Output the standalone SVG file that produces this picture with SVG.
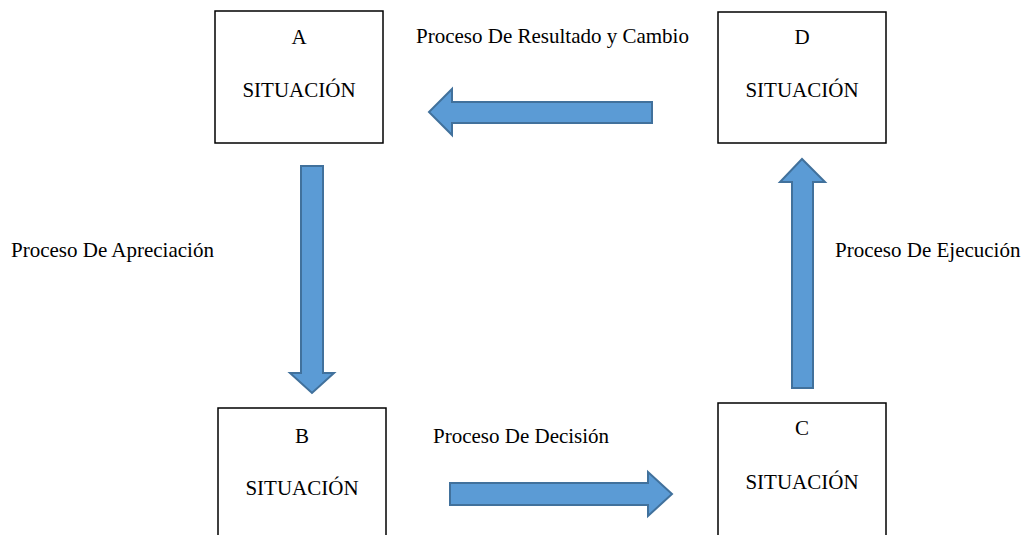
<svg xmlns="http://www.w3.org/2000/svg" width="1034" height="535" viewBox="0 0 1034 535">
<style>
.box{fill:#fff;stroke:#000;stroke-width:1.5}
.t{font-family:"Liberation Serif","Times New Roman",serif;font-size:21px;fill:#000}
.c{text-anchor:middle}
.arr{fill:#5b9bd5;stroke:#41719c;stroke-width:2;stroke-linejoin:miter}
</style>
<rect width="1034" height="535" fill="#fff"/>
<g id="nodeA"><rect class="box" x="215" y="11" width="168" height="132"/><text class="t c" x="299" y="44">A</text><text class="t c" x="299" y="97">SITUACIÓN</text></g>
<g id="nodeD"><rect class="box" x="718" y="12" width="168" height="131"/><text class="t c" x="802" y="44">D</text><text class="t c" x="802" y="97">SITUACIÓN</text></g>
<g id="nodeB"><rect class="box" x="218" y="408" width="168" height="140"/><text class="t c" x="302" y="443">B</text><text class="t c" x="302" y="495">SITUACIÓN</text></g>
<g id="nodeC"><rect class="box" x="718" y="403" width="168" height="140"/><text class="t c" x="802" y="435">C</text><text class="t c" x="802" y="489">SITUACIÓN</text></g>
<g id="connectors">
<polygon class="arr" points="652,102 452,102 452,89 429,112 452,135 452,123 652,123"/>
<polygon class="arr" points="301,166 323,166 323,373 334,373 312,393 290,373 301,373"/>
<polygon class="arr" points="450,483 648,483 648,472 672,494 648,516 648,505 450,505"/>
<polygon class="arr" points="792,388 792,182 780,182 802,159 825,182 813,182 813,388"/>
</g>
<g id="labels">
<text class="t" x="416" y="43">Proceso De Resultado y Cambio</text>
<text class="t" x="11" y="257">Proceso De Apreciación</text>
<text class="t" x="835" y="257">Proceso De Ejecución</text>
<text class="t" x="433" y="443">Proceso De Decisión</text>
</g>
</svg>
